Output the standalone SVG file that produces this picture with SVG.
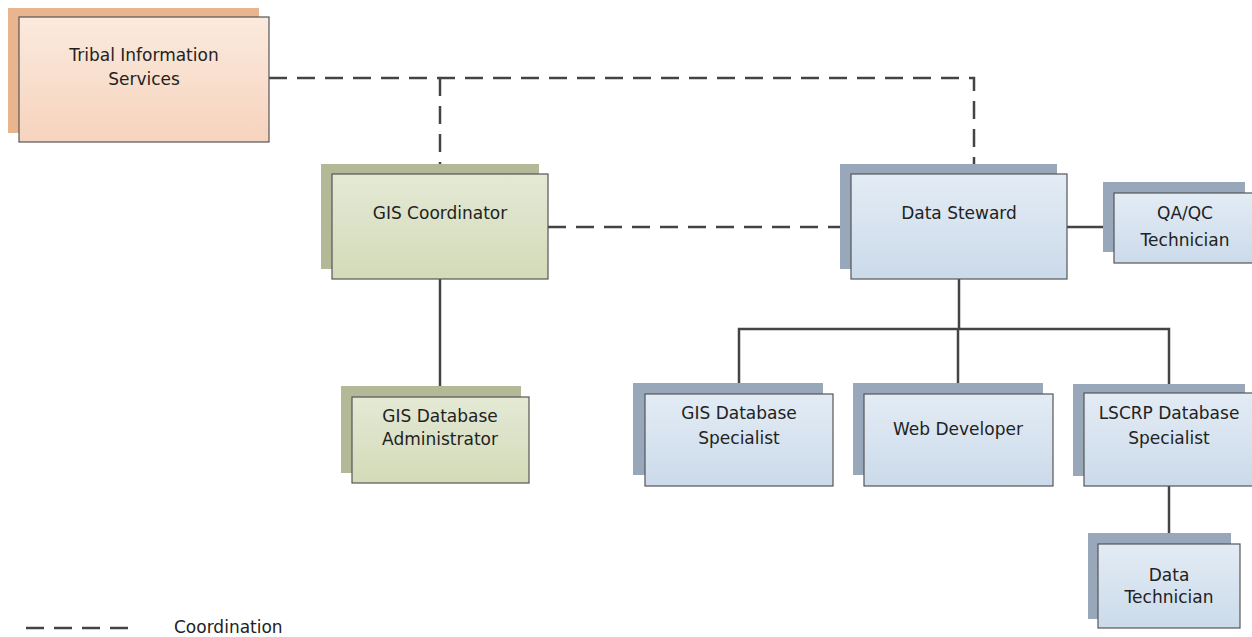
<svg xmlns="http://www.w3.org/2000/svg" width="1252" height="637" viewBox="0 0 1252 637">
<defs>
<linearGradient id="gO" x1="0" y1="0" x2="0" y2="1"><stop offset="0" stop-color="#fbeade"/><stop offset="1" stop-color="#f6d3bd"/></linearGradient>
<linearGradient id="gG" x1="0" y1="0" x2="0" y2="1"><stop offset="0" stop-color="#e4e9d5"/><stop offset="1" stop-color="#d3dbb8"/></linearGradient>
<linearGradient id="gB" x1="0" y1="0" x2="0" y2="1"><stop offset="0" stop-color="#e3ecf5"/><stop offset="1" stop-color="#cbdaea"/></linearGradient>
</defs>
<style>
.front{stroke:#555;stroke-width:1.2}
.o{fill:url(#gO)} .g{fill:url(#gG)} .b{fill:url(#gB)}
.so{fill:#e9b58f} .sg{fill:#b3b997} .sb{fill:#98a7b9}
text{font-family:"DejaVu Sans","Liberation Sans",sans-serif;font-size:17px;fill:#222;text-anchor:middle}
.solid{stroke:#444;stroke-width:2.5;fill:none}
.dash{stroke:#444;stroke-width:2.5;fill:none;stroke-dasharray:18 10}
.legend{text-anchor:start}
</style>
<rect width="1252" height="637" fill="#fff"/>
<g id="connectors">
<path class="dash" d="M269 78 H974 V174"/>
<path class="dash" d="M440 78 V174"/>
<path class="dash" d="M548 227 H851"/>
<path class="solid" d="M1067 227 H1114"/>
<path class="solid" d="M440 279 V397"/>
<path class="solid" d="M959 279 V329 M739 394 V329 H1169 V393 M958 394 V329"/>
<path class="solid" d="M1169 486 V544"/>
</g>
<g id="tribal">
<rect class="so" x="8" y="8" width="251" height="125"/>
<rect class="front o" x="19" y="17" width="250" height="125"/>
<text x="144" y="61">Tribal Information</text>
<text x="144" y="85">Services</text>
</g>
<g id="gis-coordinator">
<rect class="sg" x="321" y="164" width="218" height="105"/>
<rect class="front g" x="332" y="174" width="216" height="105"/>
<text x="440" y="219">GIS Coordinator</text>
</g>
<g id="data-steward">
<rect class="sb" x="840" y="164" width="217" height="105"/>
<rect class="front b" x="851" y="174" width="216" height="105"/>
<text x="959" y="219">Data Steward</text>
</g>
<g id="qaqc">
<rect class="sb" x="1103" y="182" width="142" height="70"/>
<rect class="front b" x="1114" y="193" width="145" height="70"/>
<text x="1185" y="219">QA/QC</text>
<text x="1185" y="246">Technician</text>
</g>
<g id="gis-db-admin">
<rect class="sg" x="341" y="386" width="180" height="87"/>
<rect class="front g" x="352" y="397" width="177" height="86"/>
<text x="440" y="422">GIS Database</text>
<text x="440" y="445">Administrator</text>
</g>
<g id="gis-db-specialist">
<rect class="sb" x="633" y="383" width="190" height="92"/>
<rect class="front b" x="645" y="394" width="188" height="92"/>
<text x="739" y="419">GIS Database</text>
<text x="739" y="444">Specialist</text>
</g>
<g id="web-developer">
<rect class="sb" x="853" y="383" width="190" height="92"/>
<rect class="front b" x="864" y="394" width="189" height="92"/>
<text x="958" y="435">Web Developer</text>
</g>
<g id="lscrp">
<rect class="sb" x="1073" y="384" width="172" height="92"/>
<rect class="front b" x="1084" y="393" width="175" height="93"/>
<text x="1169" y="419">LSCRP Database</text>
<text x="1169" y="444">Specialist</text>
</g>
<g id="data-technician">
<rect class="sb" x="1088" y="533" width="143" height="86"/>
<rect class="front b" x="1098" y="544" width="142" height="84"/>
<text x="1169" y="581">Data</text>
<text x="1169" y="603">Technician</text>
</g>
<g id="legend">
<path class="dash" d="M26 628 H137" stroke-dasharray="19 11.7"/>
<text class="legend" x="174" y="633">Coordination</text>
</g>
</svg>
